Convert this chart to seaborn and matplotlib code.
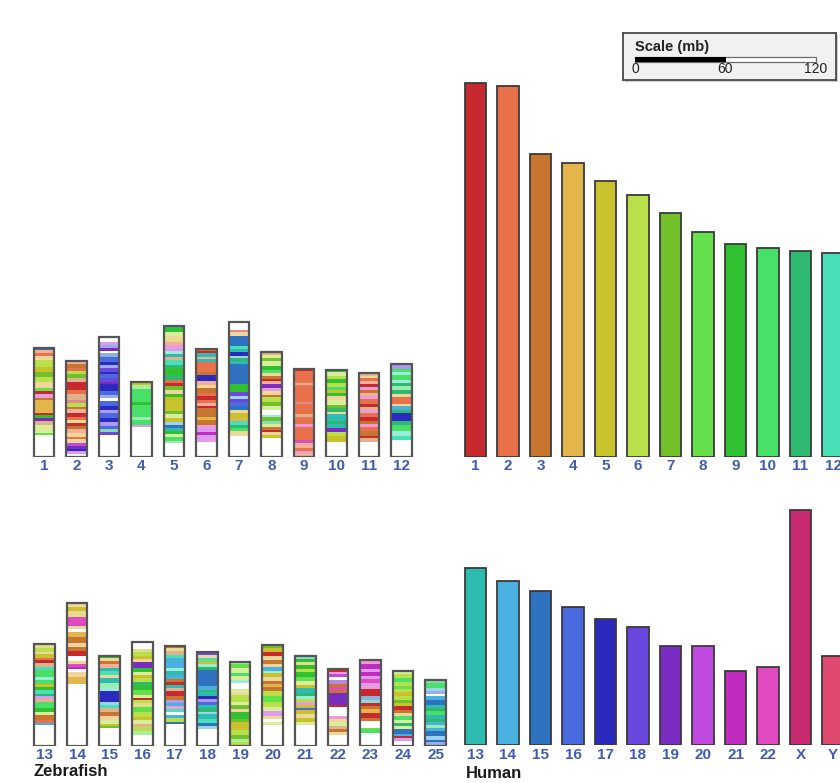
import matplotlib
matplotlib.use("Agg")
import matplotlib.pyplot as plt
import seaborn as sns
from matplotlib.colors import to_rgb

sns.set_theme(style="white")
plt.rcParams["font.family"] = ["Liberation Sans", "DejaVu Sans"]

# ---------------- human chromosomes (Mb) ----------------
human_top = ["1", "2", "3", "4", "5", "6", "7", "8", "9", "10", "11", "12"]
human_top_mb = [244, 242, 198, 192, 180, 171, 159, 147, 139, 136, 134, 133]
human_bottom = ["13", "14", "15", "16", "17", "18", "19", "20", "21", "22", "X", "Y"]
human_bottom_mb = [115.5, 107.4, 100.8, 90.4, 82.2, 76.9, 64.5, 64.5, 48.2, 51.2, 153.8, 58.2]
human_palette = [
    "#c62a2e", "#e8704a", "#c87530", "#e2b64a", "#c8c22c", "#b8e04a",
    "#72c02c", "#66e04a", "#30c030", "#48e068", "#2eb870", "#48e0b8",
    "#2ebcb0", "#4ab0e0", "#2e72c0", "#4a6ae0", "#2a2abe", "#6a48e0",
    "#7a2cc0", "#c04ae0", "#c02cc0", "#e04ac0", "#c82a70", "#e04a70",
]

# ---------------- zebrafish chromosomes (Mb) ----------------
zf_top = ["1", "2", "3", "4", "5", "6", "7", "8", "9", "10", "11", "12"]
zf_top_mb = [71.2, 62.5, 78.4, 48.4, 85.6, 70.4, 88.2, 68.0, 57.3, 56.6, 54.5, 60.6]
zf_bottom = ["13", "14", "15", "16", "17", "18", "19", "20", "21", "22", "23", "24", "25"]
zf_bottom_mb = [66.2, 93.0, 58.8, 67.5, 65.1, 60.8, 54.9, 65.8, 58.8, 50.1, 56.0, 48.6, 42.9]

# Conserved segments, top to bottom: (human chromosome, relative length).
# A trailing ' marks a weak/partial assignment, "w" an unassigned stretch.
zf1 = [("15", 7), ("2'", 10), ("2", 8), ("4'", 12), ("6", 20), ("5", 15), ("7", 15), ("6", 15),
       ("4'", 18), ("8", 10), ("1", 8), ("22'", 12), ("3", 8), ("4", 37), ("1", 8), ("9", 8),
       ("19", 10), ("3'", 12), ("6'", 22), ("8", 7), ("w", 65)]
zf2 = [("2'", 8), ("3", 12), ("2", 10), ("6", 8), ("7", 14), ("3'", 10), ("1", 25), ("2", 12),
       ("3'", 18), ("1'", 8), ("6", 12), ("3", 8), ("2'", 10), ("1", 12), ("2", 10), ("5'", 10),
       ("1", 8), ("3", 10), ("2'", 10), ("4'", 12), ("2", 8), ("4'", 10), ("20", 10), ("19", 8),
       ("17", 8), ("20'", 8), ("w", 8)]
zf3 = [("w", 15), ("20'", 10), ("16'", 10), ("19", 8), ("w", 7), ("15'", 10), ("16", 15), ("17", 10),
       ("16'", 10), ("18", 10), ("17", 8), ("16", 12), ("18", 10), ("19", 8), ("17", 20), ("16", 12),
       ("16'", 10), ("w", 8), ("16", 15), ("17", 12), ("18'", 10), ("16", 15), ("17", 10), ("18'", 12),
       ("16", 10), ("11'", 8), ("18", 10), ("w", 65)]
zf4 = [("5", 8), ("8'", 12), ("10", 40), ("9", 8), ("10", 35), ("10'", 10), ("10", 16), ("20'", 5),
       ("w", 88)]
zf5 = [("11", 8), ("9", 12), ("6'", 10), ("4'", 10), ("5'", 10), ("2'", 8), ("22'", 10), ("20'", 8),
       ("12'", 10), ("13", 8), ("3'", 10), ("12", 14), ("11", 10), ("9", 20), ("11", 15), ("2", 10),
       ("1", 8), ("7", 12), ("4'", 12), ("9", 10), ("5", 40), ("7", 10), ("6'", 12), ("5", 12),
       ("14'", 10), ("15", 8), ("13", 10), ("9", 8), ("6'", 10), ("10", 10), ("10'", 8), ("w", 40)]
zf6 = [("3", 8), ("1", 6), ("13", 10), ("2'", 8), ("13", 8), ("2", 30), ("3", 8), ("17", 20),
       ("2'", 10), ("4'", 10), ("3", 15), ("2", 10), ("1", 10), ("2", 10), ("2'", 8), ("1", 8),
       ("3", 25), ("4", 10), ("3", 15), ("22'", 10), ("20'", 10), ("21", 10), ("20'", 15),
       ("22'", 6), ("w", 43)]
zf7 = [("w", 25), ("1'", 5), ("4'", 12), ("15", 30), ("12", 10), ("13", 10), ("17", 10), ("14'", 8),
       ("11", 8), ("13", 10), ("15", 60), ("9", 22), ("18", 12), ("14'", 10), ("18", 10), ("16", 12),
       ("15", 10), ("4'", 10), ("5", 15), ("4", 10), ("12", 10), ("11", 10), ("10", 8), ("4'", 15),
       ("w", 63)]
zf8 = [("3'", 8), ("6'", 10), ("7", 8), ("6'", 15), ("9", 12), ("10", 10), ("4'", 8), ("3", 10),
       ("1", 6), ("2'", 8), ("19", 12), ("22'", 10), ("4'", 10), ("3", 8), ("6", 15), ("7", 12),
       ("6'", 10), ("w", 15), ("12'", 8), ("7", 10), ("11'", 10), ("6'", 10), ("3", 8), ("1", 5),
       ("4'", 10), ("5", 8), ("w", 56)]
zf9 = [("1", 8), ("2", 35), ("3'", 6), ("2", 50), ("1'", 8), ("2", 30), ("3'", 8), ("2", 20),
       ("22'", 10), ("2", 40), ("22", 8), ("2'", 15), ("2", 10), ("22'", 6), ("2'", 9)]
zf10 = [("9", 6), ("6'", 12), ("6", 10), ("9", 12), ("6", 10), ("10", 10), ("5", 10), ("9", 8),
        ("4'", 12), ("6'", 15), ("7", 10), ("11", 10), ("4'", 8), ("13", 20), ("11", 10), ("13", 12),
        ("19", 12), ("6", 10), ("5", 20), ("w", 43)]
zf11 = [("3'", 8), ("4'", 8), ("2", 8), ("2'", 8), ("1", 10), ("22'", 8), ("3", 10), ("2'", 10),
        ("22'", 8), ("2", 15), ("1", 8), ("3'", 10), ("22'", 10), ("2", 10), ("1", 12), ("3", 10),
        ("22'", 8), ("2", 12), ("3", 15), ("1", 8), ("3'", 10), ("w", 44)]
zf12 = [("18'", 15), ("10", 10), ("12'", 8), ("10", 15), ("12'", 10), ("11", 10), ("10'", 12),
        ("11", 10), ("4'", 10), ("2", 20), ("4'", 8), ("14", 12), ("11", 8), ("17", 25), ("11", 10),
        ("10", 20), ("12'", 15), ("12", 10), ("w", 50)]
zf13 = [("5'", 10), ("6", 12), ("4'", 8), ("5", 10), ("2", 8), ("1", 8), ("3'", 12), ("12", 10),
        ("10", 20), ("12'", 10), ("10", 10), ("5", 10), ("9", 10), ("12", 10), ("11", 8), ("20'", 8),
        ("3'", 8), ("10", 20), ("9", 10), ("6'", 10), ("3", 15), ("2", 10), ("14", 5), ("w", 62)]
zf14 = [("4'", 10), ("5", 12), ("4'", 10), ("5'", 10), ("22", 25), ("4'", 10), ("w", 8), ("4", 15),
        ("3", 20), ("4'", 12), ("3", 10), ("1", 15), ("w", 15), ("4'", 10), ("22", 8), ("21", 6),
        ("w", 10), ("4'", 15), ("4", 20), ("w", 186)]
zf15 = [("9", 8), ("4'", 8), ("3", 10), ("2'", 10), ("13", 10), ("12", 12), ("4'", 10), ("13", 15),
        ("10'", 12), ("12'", 10), ("17", 35), ("14'", 8), ("12", 10), ("3'", 12), ("3", 12),
        ("4'", 10), ("6'", 12), ("5", 8), ("7", 6), ("w", 52)]
zf16 = [("w", 20), ("5'", 8), ("6", 12), ("5", 10), ("4'", 8), ("19", 20), ("9", 10), ("6'", 10),
        ("5", 10), ("6", 10), ("11", 10), ("9", 15), ("8", 15), ("6'", 10), ("1", 5), ("6", 10),
        ("5'", 10), ("8", 15), ("6", 15), ("5", 10), ("6'", 12), ("3'", 10), ("6", 12), ("8'", 10),
        ("w", 33)]
zf17 = [("3", 6), ("5'", 10), ("3'", 10), ("12", 10), ("14", 30), ("12'", 10), ("13", 10), ("14", 12),
        ("3", 10), ("1", 8), ("13", 10), ("3'", 10), ("1", 15), ("3", 10), ("18'", 10), ("14", 10),
        ("22'", 8), ("12", 10), ("w", 8), ("14", 8), ("6", 12), ("15", 6), ("w", 66)]
zf18 = [("18", 8), ("4'", 8), ("12", 10), ("5", 8), ("12'", 10), ("11", 8), ("15", 50), ("14", 10),
        ("11", 8), ("13", 10), ("17", 10), ("18'", 8), ("16", 10), ("13", 10), ("11", 10), ("14'", 8),
        ("13", 15), ("12", 10), ("15", 10), ("14'", 8), ("w", 50)]
zf19 = [("8'", 8), ("8", 10), ("6'", 15), ("10", 10), ("6'", 12), ("12'", 8), ("w", 20), ("6'", 10),
        ("4'", 8), ("6", 20), ("6'", 10), ("7", 12), ("4'", 8), ("9", 20), ("7", 10), ("5", 25),
        ("6", 15), ("7", 10), ("8'", 10), ("6", 11)]
zf20 = [("7", 10), ("5", 12), ("1", 12), ("4'", 12), ("3", 12), ("4'", 10), ("14", 10), ("12'", 8),
        ("5", 12), ("4'", 10), ("3", 10), ("4", 10), ("3", 10), ("6", 15), ("8", 20), ("6", 15),
        ("6'", 10), ("20'", 15), ("4'", 10), ("w", 8), ("6'", 10), ("w", 61)]
zf21 = [("13'", 10), ("9", 10), ("5'", 8), ("9", 12), ("6", 10), ("9", 15), ("8", 12), ("6'", 10),
        ("5", 10), ("13", 15), ("11", 10), ("12'", 8), ("6", 10), ("22'", 8), ("5", 10), ("16", 6),
        ("5", 12), ("4'", 12), ("5", 12), ("6'", 8), ("w", 62)]
zf22 = [("1", 8), ("22'", 8), ("20", 8), ("w", 10), ("19'", 10), ("3", 10), ("22", 10), ("3", 8),
        ("19", 35), ("1", 8), ("w", 25), ("22'", 10), ("4'", 10), ("6'", 10), ("3'", 10), ("3", 8),
        ("4'", 10), ("w", 32)]
zf23 = [("22'", 12), ("21", 15), ("20'", 10), ("21", 12), ("20'", 10), ("22", 10), ("20'", 10),
        ("22'", 10), ("1", 20), ("15'", 12), ("13'", 8), ("1", 10), ("3", 10), ("4", 10), ("1", 15),
        ("3", 10), ("w", 20), ("8", 8), ("10", 8), ("w", 37)]
zf24 = [("6'", 10), ("6", 12), ("10", 10), ("6", 12), ("8", 10), ("6", 10), ("5", 12), ("6", 10),
        ("7", 10), ("5", 10), ("1", 12), ("3", 8), ("4'", 10), ("10", 12), ("6'", 8), ("11", 8),
        ("6'", 10), ("15", 15), ("14", 6), ("1", 6), ("20'", 10), ("w", 12)]
zf25 = [("11'", 8), ("10", 15), ("14'", 10), ("16'", 8), ("w", 8), ("14", 10), ("15", 15), ("13", 10),
        ("11", 10), ("10", 10), ("13", 12), ("11", 10), ("14", 10), ("10'", 8), ("14", 10), ("15", 15),
        ("14'", 10), ("15", 8), ("16'", 10)]

zf_top_bands = [zf1, zf2, zf3, zf4, zf5, zf6, zf7, zf8, zf9, zf10, zf11, zf12]
zf_bottom_bands = [zf13, zf14, zf15, zf16, zf17, zf18, zf19, zf20, zf21, zf22, zf23, zf24, zf25]

scale_ticks = [0, 60, 120]

# ---------------- drawing ----------------
W, H = 840, 783
PX_PER_MB = 1.53
LABEL_BLUE = "#3f5cb0"
human_labels = human_top + human_bottom
color_of = dict(zip(human_labels, human_palette))


def band_color(code):
    if code == "w":
        return "white"
    pale = code.endswith("'")
    r, g, b = to_rgb(color_of[code.rstrip("'")])
    if pale:
        return (0.55 * r + 0.45, 0.55 * g + 0.45, 0.55 * b + 0.45)
    return (r, g, b)


fig = plt.figure(figsize=(W / 100, H / 100), dpi=100)
fig.patch.set_facecolor("white")


def add_panel(x0, x1, y_top, y_base, c0, step):
    ax = fig.add_axes([x0 / W, 1 - y_base / H, (x1 - x0) / W, (y_base - y_top) / H])
    ax.patch.set_visible(False)
    return ax, ((x0 - c0) / step, (x1 - c0) / step), (0, (y_base - y_top) / PX_PER_MB)


def finish(ax, labels, xlim, ylim):
    ax.set_xticks(range(len(labels)))
    ax.set_xticklabels(labels, fontweight="bold")
    ax.set_xlim(*xlim)
    ax.set_ylim(*ylim)
    ax.set_yticks([])
    ax.set_xlabel("")
    ax.set_ylabel("")
    ax.tick_params(axis="x", length=0, pad=2.0, labelsize=11, labelcolor=LABEL_BLUE)
    sns.despine(ax=ax, left=True, bottom=True)


def draw_zebrafish(ax, labels, lengths, bands_list):
    for i, (length, bands) in enumerate(zip(lengths, bands_list)):
        total = sum(w for _, w in bands)
        top = length
        for code, w in bands:
            h = length * w / total
            ax.bar(i, h, bottom=top - h, width=0.63, color=band_color(code), linewidth=0)
            top -= h
        ax.bar(i, length, width=0.63, fill=False, edgecolor="#555555", linewidth=1.6)


def draw_human(ax, labels, values, palette):
    sns.barplot(x=labels, y=values, hue=labels, palette=palette, legend=False,
                saturation=1, width=0.65, edgecolor="#3a3a3a", linewidth=1.3, ax=ax)


# zebrafish, upper row
ax, xl, yl = add_panel(0, 430, 300, 456.5, 44, 32.5)
draw_zebrafish(ax, zf_top, zf_top_mb, zf_top_bands)
finish(ax, zf_top, xl, yl)

# zebrafish, lower row
ax, xl, yl = add_panel(0, 452, 580, 745.5, 44.5, 32.6)
draw_zebrafish(ax, zf_bottom, zf_bottom_mb, zf_bottom_bands)
finish(ax, zf_bottom, xl, yl)

# human, upper row
ax, xl, yl = add_panel(455, 840, 60, 456.5, 475.5, 32.5)
draw_human(ax, human_top, human_top_mb, human_palette[:12])
finish(ax, human_top, xl, yl)

# human, lower row
ax, xl, yl = add_panel(455, 840, 495, 745, 475.5, 32.5)
draw_human(ax, human_bottom, human_bottom_mb, human_palette[12:])
finish(ax, human_bottom, xl, yl)

fig.text(33 / W, 1 - 772 / H, "Zebrafish", fontsize=12, fontweight="bold",
         color="#1a1a1a", ha="left", va="center")
fig.text(466 / W, 1 - 773 / H, "Human", fontsize=12, fontweight="bold",
         color="#1a1a1a", ha="left", va="center")

# scale box
bx0, bx1, by0, by1 = 623, 836, 33, 80
shadow = fig.add_axes([(bx0 + 2) / W, 1 - (by1 + 2) / H, (bx1 - bx0) / W, (by1 - by0) / H])
shadow.set_facecolor("#cfcfcf")
shadow.set_xticks([]); shadow.set_yticks([])
for s in shadow.spines.values():
    s.set_visible(False)

sax = fig.add_axes([bx0 / W, 1 - by1 / H, (bx1 - bx0) / W, (by1 - by0) / H])
sax.set_facecolor("#f1f1f1")
mb_px = (816 - 635) / 120
sax.set_xlim((bx0 - 635) / mb_px, (bx1 - 635) / mb_px)
sax.set_ylim(by1 - by0, 0)
sax.set_xticks([]); sax.set_yticks([])
for s in sax.spines.values():
    s.set_color("#4a4a4a")
    s.set_linewidth(1.3)
sax.barh(26, scale_ticks[-1] - scale_ticks[0], left=scale_ticks[0], height=5,
         color="white", edgecolor="#6a6a6a", linewidth=0.9)
sax.barh(26, scale_ticks[1] - scale_ticks[0], left=scale_ticks[0], height=5,
         color="black", linewidth=0)
sax.text(0, 14, "Scale (mb)", fontsize=10.5, fontweight="bold", color="#222222",
         ha="left", va="center")
for t in scale_ticks:
    sax.text(t, 36, str(t), fontsize=10, color="#222222", ha="center", va="center")

fig.savefig("out.png", dpi=100)
